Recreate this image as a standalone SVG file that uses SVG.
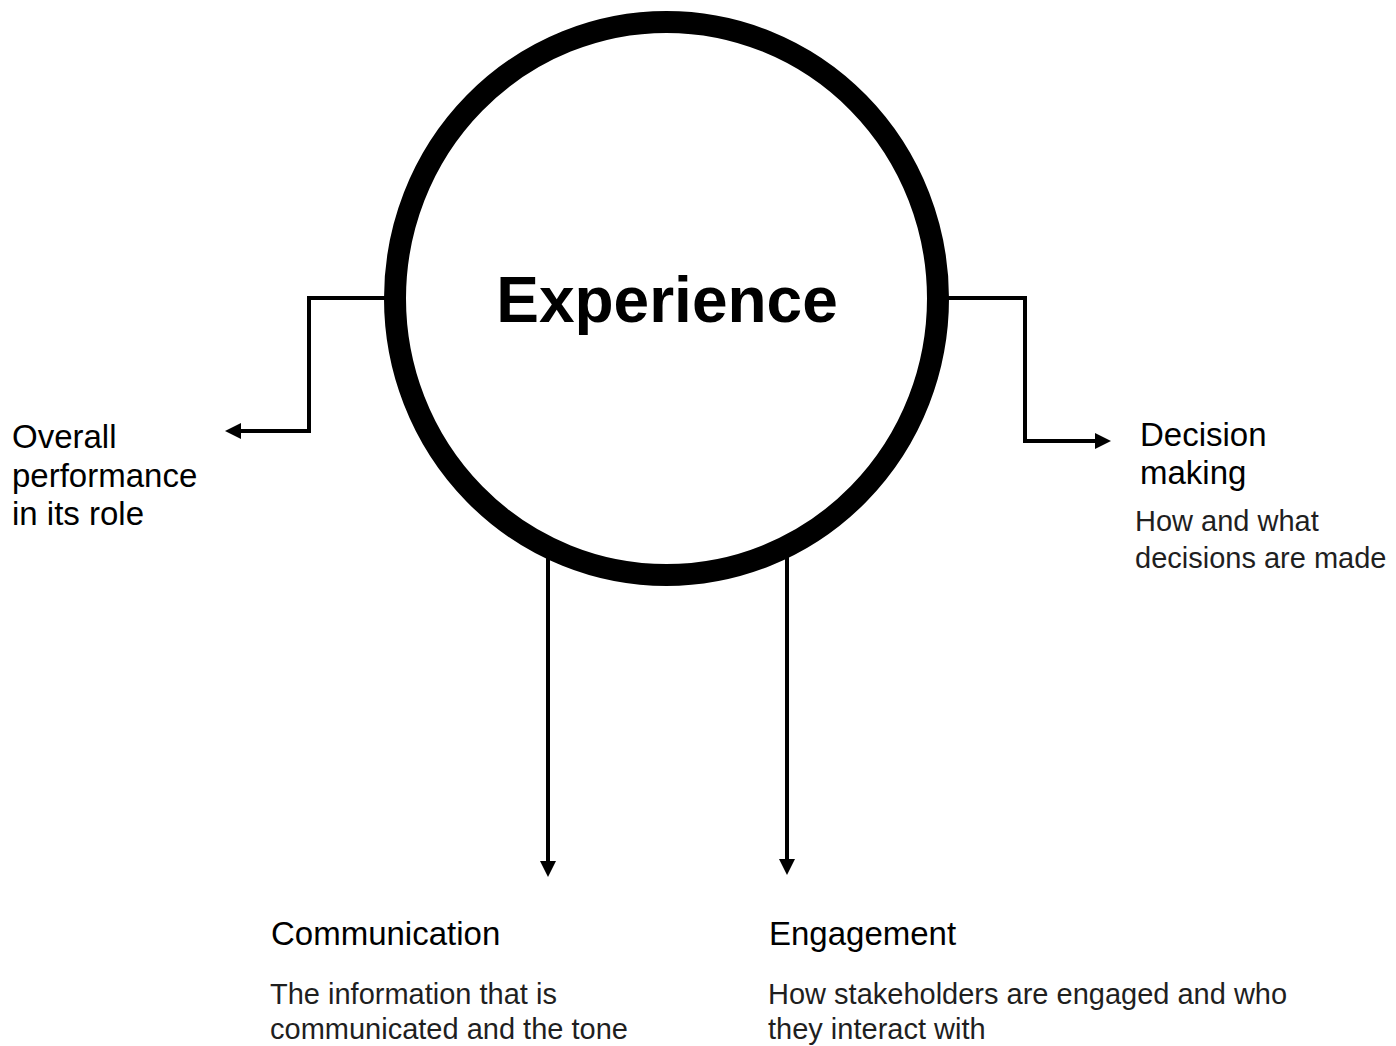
<svg xmlns="http://www.w3.org/2000/svg" width="1396" height="1046" viewBox="0 0 1396 1046">
  <style>
    .head { font-family: "Liberation Sans", Arial, sans-serif; font-size: 33px; fill: #000; }
    .body { font-family: "Liberation Sans", Arial, sans-serif; font-size: 29px; fill: #1f1f1f; }
    .title { font-family: "Liberation Sans", Arial, sans-serif; font-size: 64px; font-weight: bold; fill: #000; }
    .link { fill: none; stroke: #000; stroke-width: 4; marker-end: url(#arrow); }
  </style>
  <defs>
    <marker id="arrow" markerUnits="userSpaceOnUse" markerWidth="17" markerHeight="17" refX="1" refY="8" orient="auto">
      <path d="M0,0 L16,8 L0,16 z" fill="#000"/>
    </marker>
  </defs>
  <rect width="1396" height="1046" fill="#fff"/>

  <!-- connectors -->
  <g id="connectors">
    <path class="link" d="M395 298 H309 V431 H240"/>
    <path class="link" d="M940 298 H1025 V441 H1096"/>
    <path class="link" d="M548 556 V862"/>
    <path class="link" d="M787 554 V860"/>
  </g>

  <!-- central node -->
  <g id="experience">
    <ellipse cx="666.5" cy="298.5" rx="271.5" ry="276.5" fill="none" stroke="#000" stroke-width="22"/>
    <text class="title" x="667" y="322" text-anchor="middle">Experience</text>
  </g>

  <g id="overall-performance">
    <text class="head" x="12" y="448">Overall</text>
    <text class="head" x="12" y="487">performance</text>
    <text class="head" x="12" y="525">in its role</text>
  </g>

  <g id="decision-making">
    <text class="head" x="1140" y="446">Decision</text>
    <text class="head" x="1140" y="484">making</text>
    <text class="body" x="1135" y="531">How and what</text>
    <text class="body" x="1135" y="568">decisions are made</text>
  </g>

  <g id="communication">
    <text class="head" x="271" y="945">Communication</text>
    <text class="body" x="270" y="1004">The information that is</text>
    <text class="body" x="270" y="1039">communicated and the tone</text>
  </g>

  <g id="engagement">
    <text class="head" x="769" y="945">Engagement</text>
    <text class="body" x="768" y="1004">How stakeholders are engaged and who</text>
    <text class="body" x="768" y="1039">they interact with</text>
  </g>
</svg>
